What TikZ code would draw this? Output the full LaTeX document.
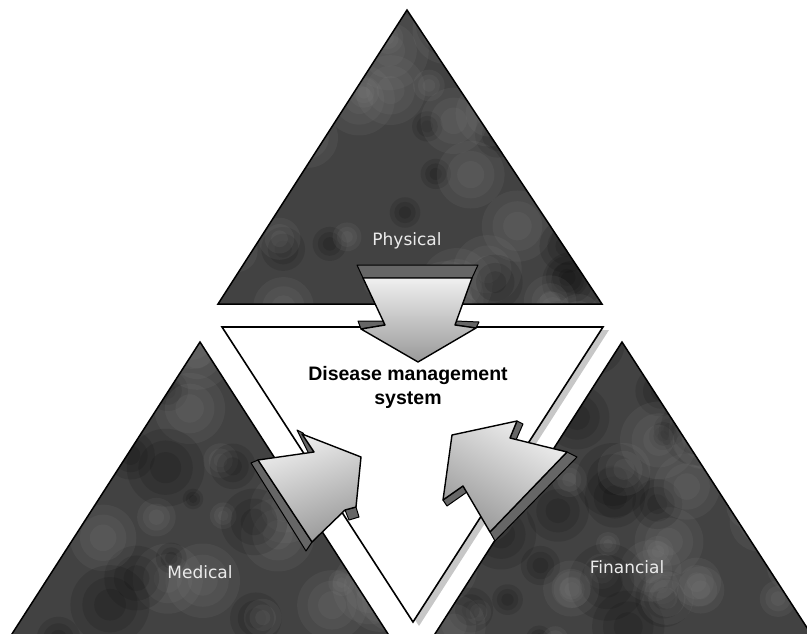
\documentclass[tikz,border=0pt]{standalone}
\usepackage{fontspec}
\newfontfamily\labelfont{DejaVu Sans}
\newfontfamily\titlefont{Liberation Sans}
\definecolor{granite}{RGB}{66,66,66}
\begin{document}
\begin{tikzpicture}[x=1pt,y=-1pt,
  outline/.style={draw=black,line width=1.5pt,line join=miter},
  arrowface/.style={draw=black,line width=1.4pt,line join=round,
    top color=black!6,bottom color=black!40},
  arrowband/.style={fill=black!60,draw=black,line width=1pt,line join=round},
  sidelabel/.style={text=white!92!black,font=\labelfont\fontsize{17}{20}\selectfont,
    anchor=base,inner sep=0pt},
  hublabel/.style={text=black,font=\titlefont\bfseries\fontsize{19.5}{24}\selectfont,
    anchor=base,inner sep=0pt}]
\useasboundingbox (0,0) rectangle (807,634);

% corner points of the three outer triangles and the central one
\coordinate (pT) at (407,10);  \coordinate (pL) at (218,304); \coordinate (pR) at (602,304);
\coordinate (mT) at (200,342); \coordinate (mL) at (10,637);  \coordinate (mR) at (390,637);
\coordinate (fT) at (622,342); \coordinate (fL) at (433,637); \coordinate (fR) at (813,637);
\coordinate (cL) at (222,327); \coordinate (cR) at (603,327); \coordinate (cB) at (413,622);

% cloudy stone fill of the outer triangles: soft blotches built from stacked discs
\begin{scope}
  \clip (pT)--(pL)--(pR)--cycle (mT)--(mL)--(mR)--cycle (fT)--(fL)--(fR)--cycle;
  \fill[granite] (0,0) rectangle (820,640);
  \pgfmathsetseed{17}
  \foreach \k in {1,...,230}{
    \pgfmathsetmacro\cx{rnd*820}
    \pgfmathsetmacro\cy{rnd*640}
    \pgfmathsetmacro\cr{10+rnd*30}
    \pgfmathsetmacro\cg{rnd<0.7 ? 55 : 0}
    \fill[white!\cg!black,opacity=0.11] (\cx,\cy) circle[radius=\cr];
    \fill[white!\cg!black,opacity=0.11] (\cx,\cy) circle[radius=0.7*\cr];
    \fill[white!\cg!black,opacity=0.11] (\cx,\cy) circle[radius=0.4*\cr];
  }
\end{scope}
\draw[outline] (pT)--(pL)--(pR)--cycle;
\draw[outline] (mT)--(mL)--(mR)--cycle;
\draw[outline] (fT)--(fL)--(fR)--cycle;

% central triangle with its soft shadow
\fill[black!22] (228,330)--(609,330)--(419,626)--cycle;
\draw[outline,fill=white,line width=1.6pt] (cL)--(cR)--(cB)--cycle;

% arrow from the top
\draw[arrowband] (357,265)--(478,265)--(472,278)--(363,278)--cycle;
\draw[arrowband] (358,321)--(383,321)--(385,325)--(361,329)--cycle;
\draw[arrowband] (456,321)--(479,322)--(476,328)--(455,325)--cycle;
\draw[arrowface] (363,278)--(472,278)--(455,325)--(476,328)--(418,362)--(361,329)--(385,325)--cycle;

% arrow from the lower left
\draw[arrowband] (251,463)--(258,460)--(312,542)--(306,551)--cycle;
\draw[arrowband] (297,430)--(303,433)--(315,452)--(309,454)--cycle;
\draw[arrowband] (345,510)--(356,507)--(359,517)--(349,520)--cycle;
\draw[arrowface,shading angle=20] (258,460)--(314,452)--(302,434)--(361,457)--(356,507)--(345,510)--(312,542)--cycle;

% arrow from the lower right
\draw[arrowband] (567,452)--(577,457)--(495,541)--(490,532)--cycle;
\draw[arrowband] (517,421)--(523,424)--(516,440)--(510,438)--cycle;
\draw[arrowband] (463,486)--(467,492)--(447,506)--(443,500)--cycle;
\draw[arrowface,shading angle=-30] (452,435)--(517,421)--(510,438)--(567,452)--(490,532)--(463,486)--(443,500)--cycle;

% labels
\node[sidelabel] (physical) at (407,245.5) {Physical};
\node[sidelabel] (medical) at (200,578) {Medical};
\node[sidelabel] (financial) at (627,573) {Financial};
\node[hublabel] (hub1) at (408,380) {Disease management};
\node[hublabel] (hub2) at (408,404) {system};
\end{tikzpicture}
\end{document}
